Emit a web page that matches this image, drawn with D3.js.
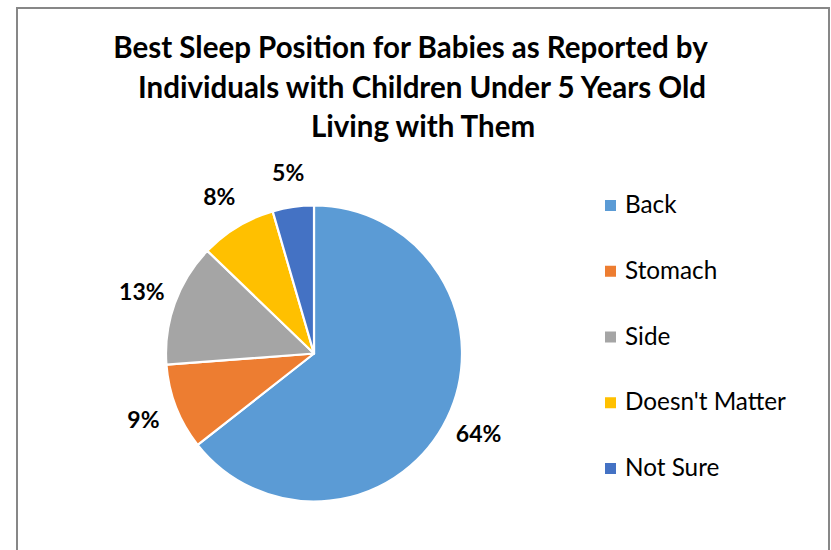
<!DOCTYPE html>
<html>
<head>
<meta charset="utf-8">
<script src="https://cdn.jsdelivr.net/npm/d3@7"></script>
<style>
  html, body { margin: 0; padding: 0; background: #fff; }
  svg { display: block; }
  text { font-family: Lato, "Open Sans", sans-serif; fill: #000; }
</style>
</head>
<body>
<svg id="chart" width="831" height="550"></svg>
<script>
const categories = ["Back", "Stomach", "Side", "Doesn't Matter", "Not Sure"];
const values = [64.4, 9.4, 13.4, 8.3, 4.5];
const valueLabels = ["64%", "9%", "13%", "8%", "5%"];
const colors = ["#5B9BD5", "#ED7D31", "#A5A5A5", "#FFC000", "#4472C4"];
const titleLines = [
  "Best Sleep Position for Babies as Reported by",
  "Individuals with Children Under 5 Years Old",
  "Living with Them"
];

const svg = d3.select("#chart");

// chart border
svg.append("rect")
  .attr("x", 17).attr("y", 8)
  .attr("width", 812).attr("height", 580)
  .attr("fill", "#fff")
  .attr("stroke", "#878787")
  .attr("stroke-width", 2);

// title
const titleX = [410.5, 422, 423];
svg.append("g").selectAll("text")
  .data(titleLines)
  .join("text")
  .attr("x", (d, i) => titleX[i])
  .attr("y", (d, i) => 58 + i * 39.5)
  .attr("text-anchor", "middle")
  .attr("font-size", 29.5)
  .attr("font-weight", "bold")
  .text(d => d);

// pie
const cx = 314, cy = 353.5, r = 148;
const data = categories.map((c, i) => ({ cat: c, value: values[i], label: valueLabels[i], color: colors[i] }));
const pie = d3.pie().value(d => d.value).sort(null);
const arcs = pie(data);
const arc = d3.arc().innerRadius(0).outerRadius(r);
const labelArc = d3.arc().innerRadius(183).outerRadius(183);

const g = svg.append("g").attr("transform", `translate(${cx},${cy})`);
g.selectAll("path")
  .data(arcs)
  .join("path")
  .attr("d", arc)
  .attr("fill", d => d.data.color)
  .attr("stroke", "#fff")
  .attr("stroke-width", 2.2)
  .attr("stroke-linejoin", "round");

g.selectAll("text.lbl")
  .data(arcs)
  .join("text")
  .attr("class", "lbl")
  .attr("transform", d => `translate(${labelArc.centroid(d)})`)
  .attr("text-anchor", "middle")
  .attr("dy", "0.36em")
  .attr("font-size", 23)
  .attr("font-weight", "bold")
  .text(d => d.data.label);

// legend
const legendY = d3.scalePoint().domain(categories).range([205.5, 468.5]);
const lg = svg.append("g");
const items = lg.selectAll("g")
  .data(data)
  .join("g")
  .attr("transform", d => `translate(605,${legendY(d.cat)})`);
items.append("rect")
  .attr("x", 0).attr("y", -5.5)
  .attr("width", 11).attr("height", 11)
  .attr("fill", d => d.color);
items.append("text")
  .attr("x", 20)
  .attr("y", 7.5)
  .attr("font-size", 24.3)
  .text(d => d.cat);
</script>
</body>
</html>
